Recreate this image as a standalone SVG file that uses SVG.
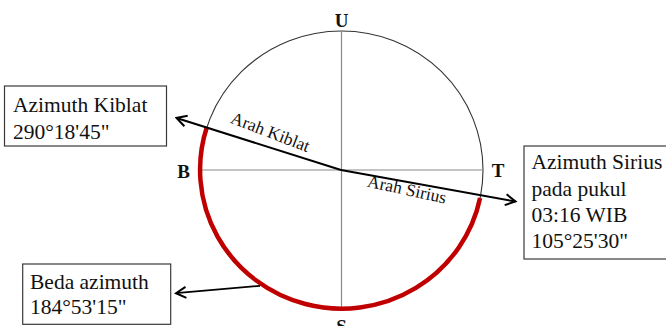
<svg xmlns="http://www.w3.org/2000/svg" width="666" height="326" viewBox="0 0 666 326">
  <style>
    .box { fill: #ffffff; stroke: #3a3a3a; stroke-width: 1.2; }
    .boxtext { font-family: "Liberation Serif", "Times New Roman", serif; font-size: 21.5px; fill: #111111; }
    .dir { font-family: "Liberation Serif", "Times New Roman", serif; font-size: 19px; font-weight: bold; fill: #111111; text-anchor: middle; }
    .along { font-family: "Liberation Serif", "Times New Roman", serif; font-size: 17.5px; fill: #111111; }
    .axis { stroke: #8a8a8a; stroke-width: 1.2; fill: none; }
    .rim { stroke: #333333; stroke-width: 1.1; fill: none; }
    .red { stroke: #c00000; stroke-width: 4.5; fill: none; }
    .conn { stroke: #000000; stroke-width: 2; fill: none; }
  </style>
  <defs>
    <marker id="chev" markerUnits="userSpaceOnUse" viewBox="-13 -8 15 16" markerWidth="15" markerHeight="16" refX="0" refY="0" orient="auto">
      <path d="M -10 -5.5 L 0 0 L -10 5.5" fill="none" stroke="#000000" stroke-width="2" stroke-linejoin="miter"/>
    </marker>
  </defs>

  <g id="compass">
    <ellipse class="rim" cx="341.5" cy="170" rx="141.5" ry="139"/>
    <line class="axis" x1="341.5" y1="31" x2="341.5" y2="309"/>
    <line class="axis" x1="200" y1="170" x2="483" y2="170"/>
    <path id="beda-arc" class="red" d="M 206.9 127 A 141.5 139 0 1 0 480.1 198"/>
  </g>

  <g id="label-U"><text class="dir" x="341.5" y="26.5">U</text></g>
  <g id="label-B"><text class="dir" x="183.5" y="178">B</text></g>
  <g id="label-T"><text class="dir" x="498" y="177">T</text></g>
  <g id="label-S"><text class="dir" x="341.5" y="333">S</text></g>

  <g id="connectors">
    <line class="conn" x1="341" y1="170" x2="176.5" y2="118" marker-end="url(#chev)"/>
    <line class="conn" x1="341" y1="170" x2="515.5" y2="201.5" marker-end="url(#chev)"/>
    <line class="conn" x1="260" y1="285.8" x2="176" y2="293.2" marker-end="url(#chev)" style="stroke-width:1.8"/>
    <text class="along" transform="translate(229.5 122.5) rotate(21)">Arah Kiblat</text>
    <text class="along" transform="translate(366.5 186.5) rotate(12.3)">Arah Sirius</text>
  </g>

  <g id="node-kiblat">
    <rect class="box" x="4.5" y="86" width="162" height="60"/>
    <text class="boxtext" x="13" y="112">Azimuth Kiblat</text>
    <text class="boxtext" x="13" y="139">290°18'45"</text>
  </g>

  <g id="node-sirius">
    <rect class="box" x="524" y="146" width="150" height="113"/>
    <text class="boxtext" x="531.5" y="169">Azimuth Sirius</text>
    <text class="boxtext" x="531.5" y="195.5">pada pukul</text>
    <text class="boxtext" x="531.5" y="222">03:16 WIB</text>
    <text class="boxtext" x="531.5" y="248">105°25'30"</text>
  </g>

  <g id="node-beda">
    <rect class="box" x="22.7" y="264" width="148" height="60.3"/>
    <text class="boxtext" x="30" y="288.5">Beda azimuth</text>
    <text class="boxtext" x="30" y="314">184°53'15"</text>
  </g>
</svg>
